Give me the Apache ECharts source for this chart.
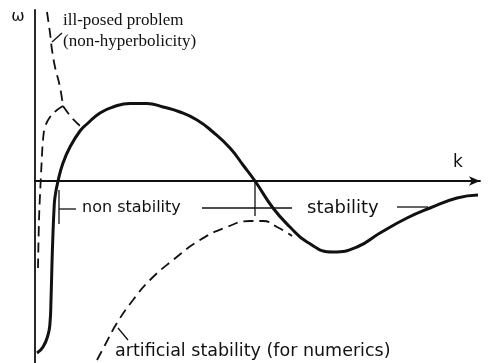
<!DOCTYPE html>
<html>
<head>
<meta charset="utf-8">
<script src="https://cdn.jsdelivr.net/npm/echarts@6/dist/echarts.min.js"></script>
<style>
  html, body { margin: 0; padding: 0; background: #fff; }
  #chart { width: 488px; height: 363px; }
</style>
</head>
<body>
<div id="chart"></div>
<script>
// Schematic dispersion relation ω(k).
// Main growth-rate curve (solid)
const mainK = [0.2, 0.8, 1.3, 1.5, 1.6, 1.7, 1.8, 1.9, 2.0, 2.3, 2.8, 3.5, 4.5, 5.2, 6.5, 7.8, 9.5, 11.2, 12.8, 14.5, 16.2, 17.8, 19.5, 20.8, 22.0, 23.8, 25.5, 27.2, 29.8, 32.2, 34.5, 37.2, 39.5, 42.2, 44.3];
const mainW = [-17.2, -16.6, -15.4, -14.2, -11.9, -8.2, -5.2, -2.9, -1.6, 0.0, 1.8, 3.4, 5.0, 5.7, 6.8, 7.4, 7.75, 7.75, 7.4, 6.9, 6.1, 4.9, 3.3, 1.6, 0.0, -2.7, -4.6, -6.1, -7.1, -6.6, -5.2, -3.7, -2.7, -1.7, -1.4];

// Ill-posed branch (dashed): upper part, left part and the short link to the main curve
const illUpperK = [1.2, 1.5, 1.7, 2.0, 2.5, 2.8];
const illUpperW = [16.9, 14.8, 13.1, 11.4, 9.4, 7.5];
const illLeftK = [2.8, 2.2, 1.5, 1.0, 0.8, 0.7, 0.6, 0.5, 0.4, 0.3];
const illLeftW = [7.5, 7.1, 6.4, 5.4, 4.1, 2.6, 0.6, -1.4, -3.9, -8.7];
const illLinkK = [2.8, 3.3, 3.7, 4.3, 4.6];
const illLinkW = [7.5, 6.8, 6.3, 5.7, 5.4];

// Artificial-stability branch (dashed)
const artK = [6.2, 7.0, 8.2, 9.8, 11.5, 13.8, 16.5, 19.2, 21.5, 22.8, 24.2, 25.7];
const artW = [-17.9, -16.4, -14.2, -11.9, -9.9, -7.9, -5.9, -4.6, -4.0, -4.0, -4.6, -5.5];

// Annotation texts
const labelTexts = ['ill-posed problem', '(non-hyperbolicity)', 'non stability', 'stability', 'artificial stability (for numerics)'];
const axisNames = ['k', 'ω'];

const zip = (ks, ws) => ks.map((k, i) => [k, ws[i]]);

const INK = '#111';
const chart = echarts.init(document.getElementById('chart'), null, { renderer: 'canvas' });

const solid = { color: INK, width: 3 };
const dashed = { color: INK, width: 1.8, type: [10, 6] };
const thin = { color: INK, width: 1.3 };

function curve(data, style, smooth) {
  return {
    type: 'line', data: data, showSymbol: false, symbol: 'none',
    smooth: smooth, clip: false, lineStyle: style, silent: true,
    emphasis: { disabled: true }
  };
}

// Leader and bracket strokes for the annotations
const leaders = [
  [[1.7, 13.9], [2.7, 14.8]],
  [[2.4, -0.9], [2.4, -4.3]],
  [[2.4, -2.8], [4.1, -2.8]],
  [[16.7, -2.7], [25.7, -2.7]],
  [[22.0, 0.0], [22.0, -3.5]],
  [[36.2, -2.6], [39.3, -2.6]],
  [[8.3, -14.7], [9.3, -15.9]]
];

chart.setOption({
  animation: false,
  backgroundColor: '#fff',
  grid: { left: 35, right: 8, top: 10, bottom: 0 },
  xAxis: {
    type: 'value', min: 0, max: 44.5,
    axisLine: { onZero: true, lineStyle: { color: INK, width: 1.8 }, symbol: ['none', 'arrow'], symbolSize: [7, 11] },
    axisTick: { show: false }, axisLabel: { show: false }, splitLine: { show: false }
  },
  yAxis: {
    type: 'value', min: -18.2, max: 17.1,
    axisLine: { show: true, onZero: false, lineStyle: { color: INK, width: 1.8 } },
    axisTick: { show: false }, axisLabel: { show: false }, splitLine: { show: false }
  },
  series: [
    curve(zip(mainK, mainW), solid, 0.5),
    curve(zip(illUpperK, illUpperW), dashed, 0.4),
    curve(zip(illLeftK, illLeftW), dashed, 0.4),
    curve(zip(illLinkK, illLinkW), dashed, 0.4),
    curve(zip(artK, artW), dashed, 0.5)
  ].concat(leaders.map(seg => curve(seg, thin, false)))
});

// Place the text in data coordinates
const px = (k, w) => chart.convertToPixel({ gridIndex: 0 }, [k, w]);
function text(str, k, w, font, align) {
  const p = px(k, w);
  return {
    type: 'text', x: p[0], y: p[1], silent: true,
    style: { text: str, font: font, fill: INK, align: align || 'left', verticalAlign: 'middle' }
  };
}
const serif = '17px "Liberation Serif", serif';
chart.setOption({
  graphic: [
    text(labelTexts[0], 2.8, 16.0, serif),
    text(labelTexts[1], 2.8, 13.9, serif),
    text(labelTexts[2], 4.7, -2.7, '16px "DejaVu Sans", sans-serif'),
    text(labelTexts[3], 27.2, -2.7, '18px "DejaVu Sans", sans-serif'),
    text(labelTexts[4], 8.0, -17.0, '17.5px "DejaVu Sans", sans-serif'),
    text(axisNames[0], 42.3, 1.8, '17px "DejaVu Sans", sans-serif', 'center'),
    text(axisNames[1], -1.7, 16.4, '16px "DejaVu Sans", sans-serif', 'center')
  ]
});
</script>
</body>
</html>
